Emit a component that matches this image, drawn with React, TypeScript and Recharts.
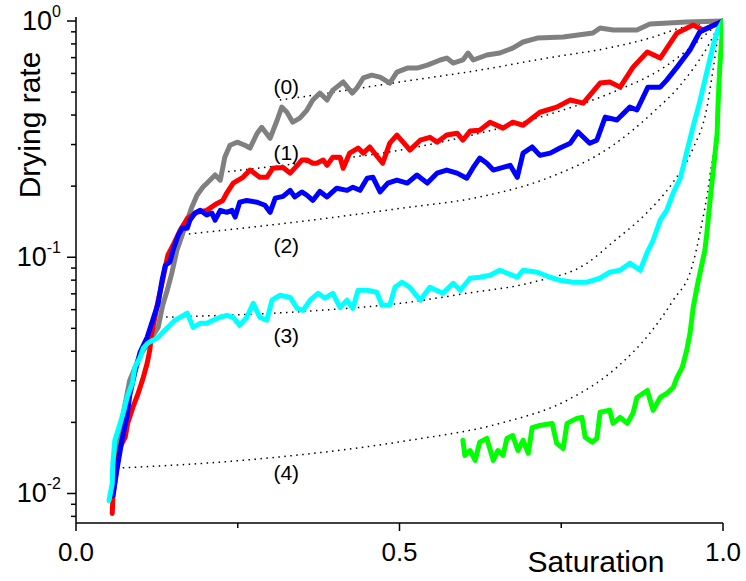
import { LineChart, Line, XAxis, YAxis, ReferenceDot } from 'recharts';

// measured drying-rate curves, [saturation, drying rate]
const curve0: [number, number][] = [
  [0.057, 0.0125], [0.068, 0.0185], [0.083, 0.0301], [0.099, 0.0384], [0.114, 0.0445], [0.127, 0.0505],
  [0.134, 0.0626], [0.141, 0.0725], [0.148, 0.0855], [0.156, 0.107], [0.164, 0.124], [0.172, 0.1435],
  [0.179, 0.163], [0.187, 0.183], [0.196, 0.198], [0.207, 0.212], [0.215, 0.223], [0.223, 0.212],
  [0.23, 0.265], [0.238, 0.298], [0.249, 0.307], [0.261, 0.298], [0.269, 0.29], [0.28, 0.335],
  [0.287, 0.355], [0.3, 0.319], [0.311, 0.381], [0.318, 0.432], [0.326, 0.411], [0.335, 0.373],
  [0.346, 0.388], [0.357, 0.42], [0.366, 0.463], [0.377, 0.495], [0.388, 0.463], [0.397, 0.51],
  [0.413, 0.552], [0.427, 0.495], [0.434, 0.52], [0.444, 0.574], [0.457, 0.59], [0.47, 0.579],
  [0.485, 0.546], [0.496, 0.608], [0.512, 0.632], [0.527, 0.632], [0.543, 0.651], [0.563, 0.684],
  [0.573, 0.697], [0.583, 0.664], [0.598, 0.684], [0.606, 0.732], [0.614, 0.684], [0.635, 0.718],
  [0.655, 0.732], [0.675, 0.768], [0.691, 0.815], [0.713, 0.847], [0.753, 0.855], [0.799, 0.89],
  [0.81, 0.934], [0.83, 0.916], [0.867, 0.916], [0.887, 0.971], [0.944, 0.99], [1.0, 1.0],
];

const curve1: [number, number][] = [
  [0.056, 0.00823], [0.057, 0.0096], [0.063, 0.0128], [0.068, 0.0157], [0.076, 0.0173], [0.08, 0.0199],
  [0.088, 0.0232], [0.096, 0.0265], [0.104, 0.031], [0.11, 0.0356], [0.114, 0.0404], [0.117, 0.0477],
  [0.122, 0.0557], [0.127, 0.0658], [0.133, 0.0776], [0.138, 0.0907], [0.142, 0.102], [0.15, 0.1124],
  [0.161, 0.13], [0.172, 0.146], [0.187, 0.155], [0.202, 0.158], [0.218, 0.169], [0.227, 0.174],
  [0.233, 0.187], [0.243, 0.206], [0.258, 0.218], [0.269, 0.234], [0.284, 0.218], [0.295, 0.218],
  [0.304, 0.238], [0.32, 0.24], [0.331, 0.227], [0.342, 0.245], [0.349, 0.258], [0.357, 0.258],
  [0.366, 0.25], [0.372, 0.25], [0.382, 0.258], [0.388, 0.245], [0.397, 0.265], [0.408, 0.265],
  [0.413, 0.238], [0.423, 0.276], [0.436, 0.29], [0.444, 0.276], [0.454, 0.293], [0.47, 0.258],
  [0.474, 0.25], [0.485, 0.304], [0.496, 0.329], [0.512, 0.293], [0.516, 0.284], [0.532, 0.313],
  [0.547, 0.322], [0.558, 0.307], [0.573, 0.329], [0.589, 0.335], [0.598, 0.313], [0.609, 0.342],
  [0.624, 0.345], [0.64, 0.373], [0.66, 0.352], [0.675, 0.373], [0.691, 0.362], [0.717, 0.411],
  [0.743, 0.432], [0.764, 0.463], [0.784, 0.449], [0.81, 0.546], [0.825, 0.552], [0.841, 0.525],
  [0.861, 0.638], [0.883, 0.739], [0.903, 0.697], [0.929, 0.89], [0.954, 0.962], [0.969, 0.916],
  [1.0, 1.0],
];

const curve2: [number, number][] = [
  [0.057, 0.0098], [0.063, 0.0125], [0.071, 0.0168], [0.079, 0.0214], [0.083, 0.026], [0.091, 0.0326],
  [0.099, 0.0396], [0.11, 0.0458], [0.117, 0.0525], [0.127, 0.0638], [0.133, 0.0799], [0.138, 0.0925],
  [0.145, 0.0953], [0.15, 0.107], [0.158, 0.124], [0.164, 0.1327], [0.172, 0.1327], [0.176, 0.1435],
  [0.184, 0.154], [0.192, 0.158], [0.202, 0.151], [0.21, 0.154], [0.215, 0.1435], [0.223, 0.158],
  [0.233, 0.155], [0.241, 0.158], [0.246, 0.148], [0.253, 0.171], [0.264, 0.174], [0.28, 0.171],
  [0.292, 0.166], [0.3, 0.155], [0.308, 0.178], [0.32, 0.181], [0.331, 0.192], [0.338, 0.18],
  [0.349, 0.189], [0.357, 0.183], [0.366, 0.174], [0.377, 0.19], [0.388, 0.18], [0.403, 0.196],
  [0.419, 0.192], [0.428, 0.198], [0.439, 0.192], [0.45, 0.216], [0.459, 0.218], [0.47, 0.189],
  [0.482, 0.206], [0.496, 0.212], [0.512, 0.206], [0.527, 0.223], [0.543, 0.206], [0.558, 0.227],
  [0.573, 0.234], [0.589, 0.227], [0.604, 0.216], [0.614, 0.24], [0.624, 0.263], [0.635, 0.25],
  [0.645, 0.234], [0.671, 0.245], [0.682, 0.218], [0.691, 0.276], [0.705, 0.293], [0.717, 0.27],
  [0.733, 0.276], [0.748, 0.29], [0.764, 0.304], [0.776, 0.339], [0.794, 0.304], [0.805, 0.313],
  [0.818, 0.392], [0.836, 0.381], [0.856, 0.432], [0.867, 0.42], [0.884, 0.525], [0.903, 0.525],
  [0.913, 0.562], [0.929, 0.638], [0.949, 0.754], [0.964, 0.898], [0.98, 0.943], [1.0, 1.0],
];

const curve3: [number, number][] = [
  [0.051, 0.00934], [0.056, 0.011], [0.057, 0.0134], [0.06, 0.0168], [0.065, 0.0185], [0.073, 0.0219],
  [0.079, 0.0255], [0.087, 0.0293], [0.091, 0.0342], [0.099, 0.0377], [0.104, 0.0412], [0.111, 0.0433],
  [0.119, 0.0445], [0.127, 0.0458], [0.134, 0.0481], [0.142, 0.0505], [0.153, 0.0541], [0.161, 0.0557],
  [0.172, 0.058], [0.181, 0.0505], [0.192, 0.0525], [0.202, 0.0525], [0.212, 0.0541], [0.223, 0.0557],
  [0.233, 0.0568], [0.243, 0.0557], [0.253, 0.0515], [0.264, 0.0557], [0.274, 0.0638], [0.284, 0.0557],
  [0.295, 0.0541], [0.303, 0.0658], [0.315, 0.069], [0.331, 0.0676], [0.342, 0.0608], [0.351, 0.0596],
  [0.362, 0.0658], [0.374, 0.0704], [0.385, 0.0671], [0.397, 0.0704], [0.408, 0.0613], [0.419, 0.0658],
  [0.428, 0.0608], [0.436, 0.0725], [0.45, 0.0725], [0.465, 0.0711], [0.473, 0.0626], [0.485, 0.0626],
  [0.493, 0.0746], [0.504, 0.0784], [0.516, 0.0746], [0.532, 0.0658], [0.547, 0.0746], [0.567, 0.0704],
  [0.583, 0.0776], [0.594, 0.0725], [0.609, 0.0815], [0.624, 0.0823], [0.64, 0.0839], [0.655, 0.0881],
  [0.682, 0.0823], [0.691, 0.0881], [0.713, 0.0864], [0.733, 0.0823], [0.748, 0.0799], [0.768, 0.0784],
  [0.79, 0.0784], [0.81, 0.0815], [0.825, 0.0864], [0.841, 0.0881], [0.856, 0.0944], [0.872, 0.0881],
  [0.883, 0.105], [0.892, 0.118], [0.903, 0.1435], [0.913, 0.158], [0.923, 0.187], [0.934, 0.216],
  [0.944, 0.279], [0.954, 0.359], [0.964, 0.454], [0.975, 0.608], [0.985, 0.791], [0.992, 0.916],
  [1.0, 1.0],
];

const curve4: [number, number][] = [
  [0.598, 0.0168], [0.601, 0.0145], [0.609, 0.0152], [0.617, 0.0138], [0.624, 0.0165], [0.635, 0.0171],
  [0.645, 0.0138], [0.652, 0.0152], [0.66, 0.0145], [0.666, 0.0171], [0.675, 0.0176], [0.683, 0.0152],
  [0.691, 0.0168], [0.699, 0.0148], [0.705, 0.019], [0.717, 0.0194], [0.736, 0.0198], [0.743, 0.0163],
  [0.753, 0.0155], [0.759, 0.0198], [0.774, 0.0208], [0.782, 0.021], [0.787, 0.0173], [0.798, 0.0165],
  [0.805, 0.0171], [0.81, 0.0221], [0.825, 0.0225], [0.83, 0.0198], [0.841, 0.021], [0.852, 0.0198],
  [0.861, 0.0219], [0.867, 0.0255], [0.883, 0.0273], [0.892, 0.0225], [0.903, 0.0255], [0.913, 0.0265],
  [0.923, 0.0281], [0.929, 0.031], [0.937, 0.0342], [0.944, 0.0404], [0.949, 0.0477], [0.954, 0.0614],
  [0.961, 0.0776], [0.968, 0.0953], [0.972, 0.107], [0.975, 0.126], [0.98, 0.174], [0.985, 0.234],
  [0.991, 0.335], [0.992, 0.42], [0.995, 0.638], [1.0, 1.0],
];

// model curves (dotted)
const model0: [number, number][] = [
  [0.315, 0.463], [0.346, 0.476], [0.501, 0.552], [0.624, 0.62], [0.728, 0.697], [0.83, 0.776],
  [0.892, 0.855], [0.934, 0.934], [0.975, 0.981], [1.0, 1.0],
];
const model1: [number, number][] = [
  [0.226, 0.229], [0.346, 0.25], [0.501, 0.284], [0.624, 0.335], [0.728, 0.4], [0.83, 0.5],
  [0.907, 0.632], [0.96, 0.815], [0.995, 0.981], [1.0, 1.0],
];
const model2: [number, number][] = [
  [0.156, 0.124], [0.377, 0.145], [0.501, 0.161], [0.624, 0.18], [0.728, 0.216], [0.83, 0.298],
  [0.892, 0.411], [0.934, 0.535], [0.975, 0.768], [0.995, 0.962], [1.0, 1.0],
];
const model3: [number, number][] = [
  [0.13, 0.0557], [0.377, 0.0596], [0.501, 0.0638], [0.604, 0.0704], [0.706, 0.0784], [0.79, 0.0944],
  [0.83, 0.116], [0.883, 0.155], [0.923, 0.208], [0.954, 0.29], [0.975, 0.428], [0.985, 0.632],
  [0.995, 0.934], [1.0, 1.0],
];
const model4: [number, number][] = [
  [0.063, 0.0128], [0.269, 0.0139], [0.516, 0.0168], [0.655, 0.0198], [0.759, 0.0248], [0.836, 0.0342],
  [0.887, 0.0477], [0.923, 0.0658], [0.952, 0.091], [0.964, 0.125], [0.98, 0.223], [0.991, 0.4],
  [0.995, 0.651], [1.0, 1.0],
];

const curveLabels = ['(0)', '(1)', '(2)', '(3)', '(4)'];
const labelS = 0.325;
const labelRate = [0.53, 0.278, 0.112, 0.0467, 0.0123];

const xTicks = [0, 0.25, 0.5, 0.75, 1];
const xMajor = [0, 0.5, 1];
const yTicks = [
  0.008, 0.009, 0.01, 0.02, 0.03, 0.04, 0.05, 0.06, 0.07, 0.08, 0.09,
  0.1, 0.2, 0.3, 0.4, 0.5, 0.6, 0.7, 0.8, 0.9, 1,
];
const yMajor: Record<string, string> = { '0.01': '-2', '0.1': '-1', '1': '0' };

const FONT = '"Liberation Sans", Arial, sans-serif';
const xDomain: [number, number] = [0, 1];
const yDomain: [number, number] = [0.0075, 1.04];

const toRows = (pts: [number, number][]) => pts.map(([s, d]) => ({ s, d }));

const series = [
  { pts: curve0, color: '#808080' },
  { pts: curve1, color: '#ff0000' },
  { pts: curve2, color: '#0000ff' },
  { pts: curve3, color: '#00ffff' },
  { pts: curve4, color: '#00ff00' },
];
const models = [model0, model1, model2, model3, model4];

function BottomTick(props: any) {
  const { x, y, payload } = props;
  const major = xMajor.includes(payload.value);
  return (
    <g>
      <line x1={x} x2={x} y1={y} y2={y + (major ? 8 : 5)} stroke="#000" strokeWidth={1.5} />
      {major && (
        <text x={x} y={y + 38} textAnchor="middle" fontSize={26} fontFamily={FONT} fill="#000">
          {payload.value.toFixed(1)}
        </text>
      )}
    </g>
  );
}

function TopTick(props: any) {
  const { x, y } = props;
  return <line x1={x} x2={x} y1={y} y2={y - 3} stroke="#000" strokeWidth={1} />;
}

function LeftTick(props: any) {
  const { x, y, payload } = props;
  const exp = yMajor[String(payload.value)];
  return (
    <g>
      <line x1={x} x2={x - (exp ? 9 : 5)} y1={y} y2={y} stroke="#000" strokeWidth={1.5} />
      {exp && (
        <text x={x - 15} y={y + 9} textAnchor="end" fontSize={27} fontFamily={FONT} fill="#000">
          10<tspan dy={-13} fontSize={16}>{exp}</tspan>
        </text>
      )}
    </g>
  );
}

function RightTick(props: any) {
  const { x, y, payload } = props;
  const major = yMajor[String(payload.value)];
  return <line x1={x} x2={x - (major ? 8 : 4)} y1={y} y2={y} stroke="#000" strokeWidth={1} />;
}

export default function App() {
  return (
    <div style={{ position: 'absolute', left: 0, top: 0, width: 746, height: 581, background: '#fff' }}>
      <LineChart width={746} height={581} margin={{ top: 17, right: 23, bottom: 0, left: 0 }}>
        <XAxis
          xAxisId="b"
          type="number"
          dataKey="s"
          domain={xDomain}
          ticks={xTicks}
          height={58}
          tickSize={0}
          tickMargin={0}
          tickLine={false}
          axisLine={{ stroke: '#000', strokeWidth: 1.5 }}
          tick={<BottomTick />}
          allowDataOverflow
        />
        <XAxis
          xAxisId="t"
          orientation="top"
          type="number"
          dataKey="s"
          domain={xDomain}
          ticks={xTicks}
          height={0}
          tickSize={0}
          tickMargin={0}
          tickLine={false}
          axisLine={{ stroke: '#000', strokeWidth: 1.5 }}
          tick={<TopTick />}
          allowDataOverflow
        />
        <YAxis
          yAxisId="l"
          scale="log"
          type="number"
          dataKey="d"
          domain={yDomain}
          ticks={yTicks}
          width={76}
          tickSize={0}
          tickMargin={0}
          tickLine={false}
          axisLine={{ stroke: '#000', strokeWidth: 1.5 }}
          tick={<LeftTick />}
          interval={0}
          allowDataOverflow
        />
        <YAxis
          yAxisId="r"
          orientation="right"
          scale="log"
          type="number"
          dataKey="d"
          domain={yDomain}
          ticks={yTicks}
          width={0}
          tickSize={0}
          tickMargin={0}
          tickLine={false}
          axisLine={{ stroke: '#000', strokeWidth: 1.5 }}
          tick={<RightTick />}
          interval={0}
          allowDataOverflow
        />

        {models.map((m, i) => (
          <Line
            key={'m' + i}
            xAxisId="b"
            yAxisId="l"
            data={toRows(m)}
            dataKey="d"
            type="monotoneX"
            stroke="#000"
            strokeWidth={1.5}
            strokeDasharray="1.5 4.5"
            dot={false}
            activeDot={false}
            isAnimationActive={false}
          />
        ))}

        {series.map((c, i) => (
          <Line
            key={'c' + i}
            xAxisId="b"
            yAxisId="l"
            data={toRows(c.pts)}
            dataKey="d"
            type="linear"
            stroke={c.color}
            strokeWidth={5}
            strokeLinejoin="round"
            strokeLinecap="round"
            dot={false}
            activeDot={false}
            isAnimationActive={false}
          />
        ))}

        {curveLabels.map((lab, i) => (
          <ReferenceDot
            key={lab}
            xAxisId="b"
            yAxisId="l"
            x={labelS}
            y={labelRate[i]}
            r={0}
            shape={(p: any) => (
              <text x={p.cx} y={p.cy} textAnchor="middle" dominantBaseline="central" fontSize={21} fontFamily={FONT} fill="#000">
                {lab}
              </text>
            )}
          />
        ))}
      </LineChart>

      <svg width={746} height={581} style={{ position: 'absolute', left: 0, top: 0, pointerEvents: 'none' }}>
        <text x={596} y={572} textAnchor="middle" fontSize={30} fontFamily={FONT} fill="#000">
          Saturation
        </text>
        <text x={40} y={125} textAnchor="middle" fontSize={30} fontFamily={FONT} fill="#000" transform="rotate(-90 40 125)">
          Drying rate
        </text>
      </svg>
    </div>
  );
}
